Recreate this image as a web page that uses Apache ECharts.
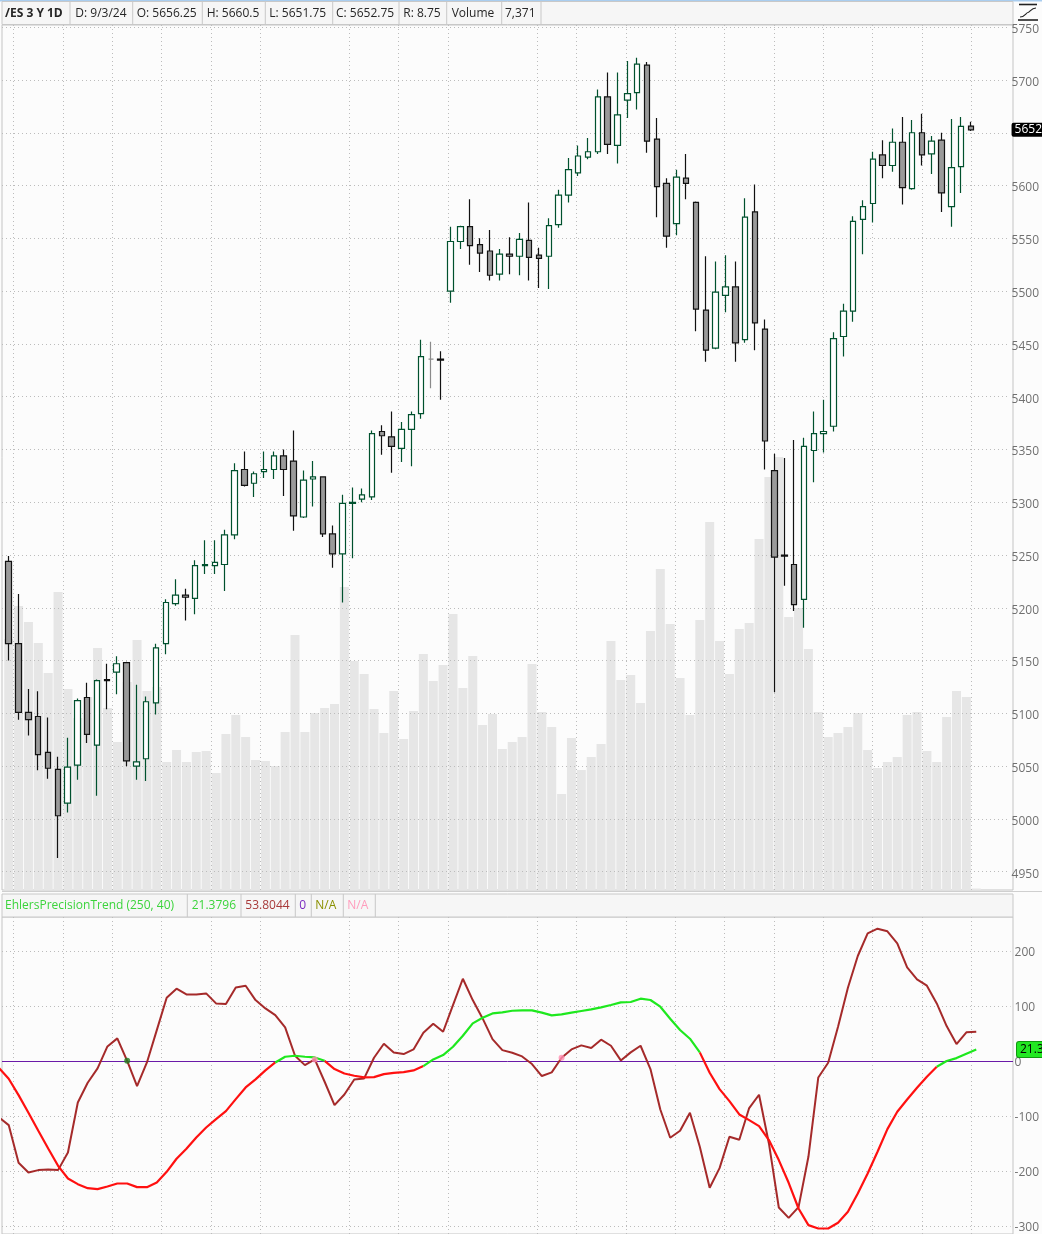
<!DOCTYPE html>
<html><head><meta charset="utf-8">
<script src="https://cdn.jsdelivr.net/npm/echarts@6/dist/echarts.min.js"></script>
<style>html,body{margin:0;padding:0;background:#fcfcfc}#c{width:1042px;height:1234px}</style>
</head><body><div id="c"></div>
<script>
// ---------- data ----------
const symbolTitle = '/ES 3 Y 1D';
const lastDate = '9/3/24';
const studyTitle = 'EhlersPrecisionTrend (250, 40)';

const open = [5244,5166,5101,5097,5063,5047,5015,5051,5115,5070,
5132,5139,5148,5050,5057,5110,5166,5204,5212,5209,
5240,5240,5241,5269,5331,5318,5329,5331,5344,5339,
5286,5322,5324,5270,5251,5299,5303,5305,5367,5362,
5351,5369,5384,5435.5,5435.5,5500,5547,5561,5544,5538,
5516,5535,5533,5548,5534,5533,5563,5591,5612,5627,
5632,5684,5638,5681,5688,5714,5644,5602,5564,5607,
5584,5482,5446,5496,5504,5454,5575,5464,5330,5250,
5241,5208,5349,5365,5372,5457,5481,5568,5583,5629,
5619,5641,5597,5650,5630,5643,5580,5618,5656.25];
const high = [5249,5213,5123,5121,5096,5059,5077,5114,5129,5132,
5147,5154,5149,5127,5116,5166,5208,5227,5218,5245,
5264,5264,5274,5337,5348,5329,5348,5348,5350,5368,
5330,5339,5324,5278,5307,5314,5313,5368,5373,5386,
5376,5386,5454,5452,5443,5561,5562,5587,5550,5558,
5540,5551,5555,5584,5541,5569,5596,5626,5638,5645,
5691,5707,5707,5718,5721,5717,5664,5607,5615,5630,
5585,5533,5528,5534,5528,5588,5601,5473,5346,5342,
5359,5361,5386,5397,5461,5488,5571,5586,5632,5643,
5654,5665,5662,5668,5647,5650,5663,5665,5660.5];
const low = [5150,5094,5079,5046,5038,4963,5006,5037,5072,5022,
5104,5118,5050,5037,5036,5099,5156,5202,5188,5194,
5232,5232,5216,5265,5315,5305,5323,5322,5306,5273,
5285,5296,5267,5238,5205,5247,5300,5302,5345,5328,
5338,5334,5379,5408,5397,5489,5540,5525,5518,5510,
5510,5516,5515,5510,5503,5502,5560,5584,5609,5625,
5630,5630,5621,5664,5672,5631,5570,5541,5553,5587,
5462,5433,5445,5480,5433,5451,5444,5331,5120,5221,
5197,5181,5319,5347,5367,5438,5471,5535,5565,5607,
5613,5582,5596,5619,5611,5575,5561,5593,5651.75];
const close = [5166,5101,5094,5061,5048,5003,5049,5112,5080,5131,
5131,5147,5055,5054,5111,5162,5205,5212,5210,5240,
5241,5243,5269,5330,5316,5327,5331,5344,5331,5287,
5321,5324,5270,5251,5299,5300,5307,5365,5363,5353,
5369,5383,5438,5435.5,5434.5,5547,5561,5543,5536,5515,
5535,5533,5549,5532,5531,5562,5591,5615,5628,5632,
5684,5639,5667,5687,5715,5642,5599,5552,5608,5602,
5483,5444,5499,5504,5451,5570,5470,5358,5248,5249,
5203,5353,5365,5367,5455,5481,5566,5580,5625,5619,
5641,5598,5650,5629,5642,5593,5617,5656,5652.75];
const volume = [1255000,1420000,1340000,1235000,1085000,1490000,1005000,860000,965000,1210000,
910000,740000,1040000,1250000,995000,1015000,640000,700000,640000,690000,
695000,585000,780000,875000,765000,650000,645000,620000,790000,1275000,
790000,885000,910000,930000,1515000,1145000,1080000,905000,785000,995000,
755000,895000,1180000,1045000,1125000,1380000,1010000,1170000,825000,880000,
705000,740000,765000,1130000,890000,815000,480000,760000,600000,665000,
730000,1245000,1050000,1075000,935000,1295000,1605000,1330000,1060000,875000,
1350000,1840000,1245000,1080000,1305000,1335000,1755000,2065000,2165000,1365000,
1410000,1205000,890000,765000,785000,815000,885000,700000,610000,640000,
665000,875000,890000,695000,640000,865000,995000,965000,7371];
// indicator arrays: first value belongs to the bar just before the first visible candle
const oscillator = [-101,
-115.2,-183.4,-200.9,-196.6,-195.4,-196.6,-164.7,-74.2,-38.7,-12.7,
27.1,41.6,1.1,-44.7,-1.9,56.6,115.1,131.4,121.1,121.1,
123.0,104.9,103.7,133.8,136.8,110.9,95.8,83.8,61.5,10.2,
-6.7,3.6,-36.8,-79.1,-59.8,-32.6,-30.8,6.6,31.9,16.2,
13.2,21.7,51.8,68.1,53.6,101.8,149.5,110.9,77.7,40.3,
20.4,15.6,9,-4.8,-26.5,-19.9,6.6,21.7,29.0,24.1,
39.2,28.3,1.8,16.3,28.3,-13.9,-86.9,-138.1,-125.5,-92.9,
-154.4,-228.6,-193.0,-136.3,-141.7,-84.4,-60.3,-148.4,-264.2,-282.9,
-263.6,-172.5,-29.0,-2.4,62.7,133.3,190.6,231.6,240.0,235.2,
213.5,170.1,148.4,136.9,104.9,63.9,31.4,52.5,53.8044];
const trend = [-11.5,
-31.4,-61.0,-92.9,-125.5,-157.4,-188.8,-211.7,-222.0,-229.2,-231.0,
-226.2,-220.8,-220.8,-227.4,-227.4,-219.0,-199.7,-176.1,-158.0,-137.5,
-119.5,-104.4,-89.9,-68.2,-47.1,-32.6,-16.3,-1.9,8.4,10.2,
8.4,7.2,1.1,-13.9,-21.8,-26.0,-29.0,-28.4,-23.0,-20.6,
-19.4,-16.3,-8.5,3.6,11.4,26.5,46.4,68.7,78.9,86.8,
88.6,91.6,92.3,92.3,88.1,83.2,85.0,88.1,91.1,94.1,
97.7,101.9,106.8,107.4,113.4,111.0,98.9,77.2,56.7,41.0,
16.3,-20.5,-50.1,-71.8,-95.9,-106.2,-117.0,-142.3,-178.5,-219.5,
-266.0,-296.1,-302.2,-302.2,-291.9,-272.0,-238.8,-202.7,-163.4,-122.4,
-91.1,-68.8,-47.6,-27.7,-9.7,0.6,6.0,13.9,21.3796];
const buySignals = [12];
const sellSignals = [31, 56];
const weekStarts = [1,6,11,16,21,26,35,40,45,54,58,63,68,73,78,83,88,93,98];

// ---------- layout ----------
const LEFT = 2, PLOT_W = 1011, STEP = 9.873, FIRST_X = 8.7;
const xMin = -(FIRST_X - LEFT) / STEP;
const xMax = xMin + PLOT_W / STEP;
const FONT = '"Open Sans", "Noto Sans", sans-serif';
const GRID_COLOR = '#bcbcbc';
const n = close.length;

const candleData = close.map((c, i) => {
  const item = { value: [i, open[i], c, low[i], high[i]] };
  if (open[i] === c) item.itemStyle = { color: '#8a8a8a', color0: '#8a8a8a', borderColor: '#8a8a8a', borderColor0: '#8a8a8a' };
  return item;
});
const volData = volume.map((v, i) => [i, v]);
const oscData = oscillator.map((v, k) => [k - 1, v]);
const isUp = k => trend[k] >= 0;
const greenData = [], redData = [];
for (let k = 0; k < trend.length; k++) {
  const inG = (k > 0 && isUp(k)) || (k < trend.length - 1 && isUp(k + 1));
  const inR = (k > 0 && !isUp(k)) || (k < trend.length - 1 && !isUp(k + 1));
  greenData.push([k - 1, inG ? trend[k] : null]);
  redData.push([k - 1, inR ? trend[k] : null]);
}
const vLines = weekStarts.map(i => ({ xAxis: i - 0.5 }));
const dotted = { type: [1, 3], color: GRID_COLOR, width: 1 };

function xAxisDef(gi) {
  return { type: 'value', gridIndex: gi, min: xMin, max: xMax, show: false };
}

const lastO = open[n - 1], lastH = high[n - 1], lastL = low[n - 1], lastC = close[n - 1];
const headerCells = [
  { t: symbolTitle, x: 5, bold: true },
  { t: 'D: ' + lastDate, x: 75.3 },
  { t: 'O: ' + lastO, x: 136.7 },
  { t: 'H: ' + lastH, x: 206.7 },
  { t: 'L: ' + lastL, x: 269.3 },
  { t: 'C: ' + lastC, x: 336 },
  { t: 'R: ' + (lastH - lastL), x: 403.3 },
  { t: 'Volume', x: 451.7 },
  { t: volume[n - 1].toLocaleString('en-US'), x: 505 }
];
const headerSeps = [70, 132.7, 202.3, 265.3, 332.7, 399, 446.7, 501.7, 541];
const studyCells = [
  { t: studyTitle, x: 5, c: '#3cd43c' },
  { t: trend[trend.length - 1].toFixed(4), x: 191.7, c: '#3cd43c' },
  { t: oscillator[oscillator.length - 1].toFixed(4), x: 245.3, c: '#a83a3a' },
  { t: '0', x: 299.3, c: '#7a2cc0' },
  { t: 'N/A', x: 315.3, c: '#8a9000' },
  { t: 'N/A', x: 347.3, c: '#ff9cbc' }
];
const studySeps = [187.3, 241, 295.3, 311.3, 343.3, 375.3];

const graphics = [];
graphics.push({ type: 'rect', shape: { x: 0, y: 0, width: 1042, height: 1.5 }, style: { fill: '#a9cdef' }, silent: true });
graphics.push({ type: 'rect', shape: { x: 2, y: 1.5, width: 1011, height: 23 }, style: { fill: '#f6f6f6', stroke: '#c8c8c8', lineWidth: 1 }, silent: true });
headerSeps.forEach(x => graphics.push({ type: 'line', shape: { x1: x, y1: 2, x2: x, y2: 24.5 }, style: { stroke: '#c8c8c8', lineWidth: 1 }, silent: true }));
headerCells.forEach(c => graphics.push({ type: 'text', x: c.x, y: 13.5, style: { text: c.t, font: (c.bold ? 'bold ' : '') + '12px ' + FONT, fill: '#262626', verticalAlign: 'middle' }, silent: true }));
graphics.push({ type: 'rect', shape: { x: 2, y: 894, width: 1011, height: 23 }, style: { fill: '#f6f6f6', stroke: '#c8c8c8', lineWidth: 1 }, silent: true });
graphics.push({ type: 'line', shape: { x1: 2, y1: 891.5, x2: 1042, y2: 891.5 }, style: { stroke: '#cfcfcf', lineWidth: 1 }, silent: true });
studySeps.forEach(x => graphics.push({ type: 'line', shape: { x1: x, y1: 894, x2: x, y2: 917 }, style: { stroke: '#c8c8c8', lineWidth: 1 }, silent: true }));
studyCells.forEach(c => graphics.push({ type: 'text', x: c.x, y: 905.7, style: { text: c.t, font: '12px ' + FONT, fill: c.c, verticalAlign: 'middle' }, silent: true }));
// corner icon
graphics.push({ type: 'line', shape: { x1: 1019, y1: 4.5, x2: 1037, y2: 4.5 }, style: { stroke: '#222', lineWidth: 1.6 }, silent: true });
graphics.push({ type: 'bezierCurve', shape: { x1: 1020, y1: 17, cpx1: 1025, cpy1: 17, cpx2: 1026, cpy2: 12.5, x2: 1028, y2: 12.5 }, style: { stroke: '#222', lineWidth: 1.1, fill: null }, silent: true });
graphics.push({ type: 'bezierCurve', shape: { x1: 1028, y1: 12.5, cpx1: 1030, cpy1: 12.5, cpx2: 1031, cpy2: 8, x2: 1036, y2: 8 }, style: { stroke: '#222', lineWidth: 1.1, fill: null }, silent: true });
graphics.push({ type: 'line', shape: { x1: 1018, y1: 20, x2: 1038, y2: 20 }, style: { stroke: '#222', lineWidth: 1.6 }, silent: true });

// price labels too close to the last-price bubble are hidden (it covers them)
const axisLabelStyle = (lh, hideNear, gap) => ({ color: '#707070', fontSize: 12, margin: 4, fontFamily: FONT,
  verticalAlign: 'top', lineHeight: lh,
  formatter: v => (hideNear != null && Math.abs(v - hideNear) < gap) ? '' : String(v) });

const chart = echarts.init(document.getElementById('c'), null, { renderer: 'canvas' });
chart.setOption({
  backgroundColor: '#fcfcfc',
  animation: false,
  textStyle: { fontFamily: FONT },
  grid: [
    { left: LEFT, width: PLOT_W, top: 27.2, height: 844.5 },
    { left: LEFT, width: PLOT_W, top: 25, height: 865, show: true, borderColor: '#c4c4c4', borderWidth: 1, backgroundColor: 'transparent' },
    { left: LEFT, width: PLOT_W, top: 950.8, height: 276.5 },
    { left: LEFT, width: PLOT_W, top: 917, height: 317, show: true, borderColor: '#c4c4c4', borderWidth: 1, backgroundColor: 'transparent' }
  ],
  xAxis: [xAxisDef(0), xAxisDef(1), xAxisDef(2), xAxisDef(3)],
  yAxis: [
    { type: 'value', gridIndex: 0, position: 'right', min: 4950, max: 5750, interval: 50, z: 2,
      axisLine: { show: false }, axisTick: { show: false },
      axisLabel: axisLabelStyle(5, lastC, 12),
      splitLine: { show: true, lineStyle: dotted } },
    { type: 'value', gridIndex: 1, min: 0, max: 4325000, show: false, splitLine: { show: false } },
    { type: 'value', gridIndex: 2, position: 'right', min: -300, max: 200, interval: 100, z: 2,
      axisLine: { show: false }, axisTick: { show: false },
      axisLabel: axisLabelStyle(3, null, 0),
      splitLine: { show: true, lineStyle: dotted } },
    { type: 'value', gridIndex: 3, min: -300 - (1234 - 1227.3) * 500 / 276.5, max: 200 + (950.8 - 917) * 500 / 276.5, show: false, splitLine: { show: false } }
  ],
  series: [
    { name: 'Volume', type: 'bar', xAxisIndex: 1, yAxisIndex: 1, data: volData, barWidth: 9, z: 1,
      itemStyle: { color: '#e6e6e6' }, silent: true,
      markLine: { silent: true, symbol: 'none', z: 2, label: { show: false }, lineStyle: dotted, data: vLines } },
    { name: 'Price', type: 'candlestick', xAxisIndex: 0, yAxisIndex: 0, data: candleData, barWidth: 6, z: 3,
      itemStyle: { color: '#ffffff', color0: '#9a9a9a', borderColor: '#00512e', borderColor0: '#111111', borderWidth: 1.2 },
      markLine: { silent: true, symbol: 'none', z: 6,
        lineStyle: { color: 'rgba(0,0,0,0)', width: 0 },
        label: { show: true, position: 'end', distance: 4, formatter: () => lastC.toFixed(2), color: '#ffffff', backgroundColor: '#000000', padding: [1, 3, 1, 3], borderRadius: 2, fontSize: 12, fontFamily: FONT },
        data: [{ yAxis: lastC }] } },
    { name: 'Grid', type: 'line', xAxisIndex: 3, yAxisIndex: 3, data: [], silent: true,
      markLine: { silent: true, symbol: 'none', z: 1, label: { show: false }, lineStyle: dotted, data: vLines } },
    { name: 'Osc', type: 'line', xAxisIndex: 3, yAxisIndex: 3, data: oscData, symbol: 'none', z: 4,
      lineStyle: { color: '#a52a2a', width: 2 }, itemStyle: { color: '#a52a2a' }, silent: true,
      markLine: { silent: true, symbol: 'none', z: 3, label: { show: false }, lineStyle: { color: '#6a1aa8', width: 1, type: 'solid' }, data: [{ yAxis: 0 }] } },
    { name: 'TrendDown', type: 'line', xAxisIndex: 3, yAxisIndex: 3, data: redData, symbol: 'none', z: 5, connectNulls: false,
      lineStyle: { color: '#ff1010', width: 2.2 }, itemStyle: { color: '#ff1010' }, silent: true },
    { name: 'TrendUp', type: 'line', xAxisIndex: 3, yAxisIndex: 3, data: greenData, symbol: 'none', z: 5, connectNulls: false,
      lineStyle: { color: '#1ee81e', width: 2.2 }, itemStyle: { color: '#1ee81e' }, silent: true,
      markLine: { silent: true, symbol: 'none', z: 6,
        lineStyle: { color: 'rgba(0,0,0,0)', width: 0 },
        label: { show: true, position: 'end', distance: 4, formatter: () => trend[trend.length - 1].toFixed(4), color: '#000000', backgroundColor: '#22e822', borderColor: '#119911', borderWidth: 1, padding: [2, 3, 1, 3], borderRadius: 2, fontSize: 12, fontFamily: FONT },
        data: [{ yAxis: trend[trend.length - 1] }] } },
    { name: 'Buy', type: 'scatter', xAxisIndex: 3, yAxisIndex: 3, symbolSize: 6, z: 7, silent: true,
      itemStyle: { color: '#1f7d1f' }, data: buySignals.map(i => [i, oscillator[i + 1]]) },
    { name: 'Sell', type: 'scatter', xAxisIndex: 3, yAxisIndex: 3, symbolSize: 6, z: 7, silent: true,
      itemStyle: { color: '#ff8fb2' }, data: sellSignals.map(i => [i, oscillator[i + 1]]) }
  ],
  graphic: graphics
});
</script>
</body></html>
